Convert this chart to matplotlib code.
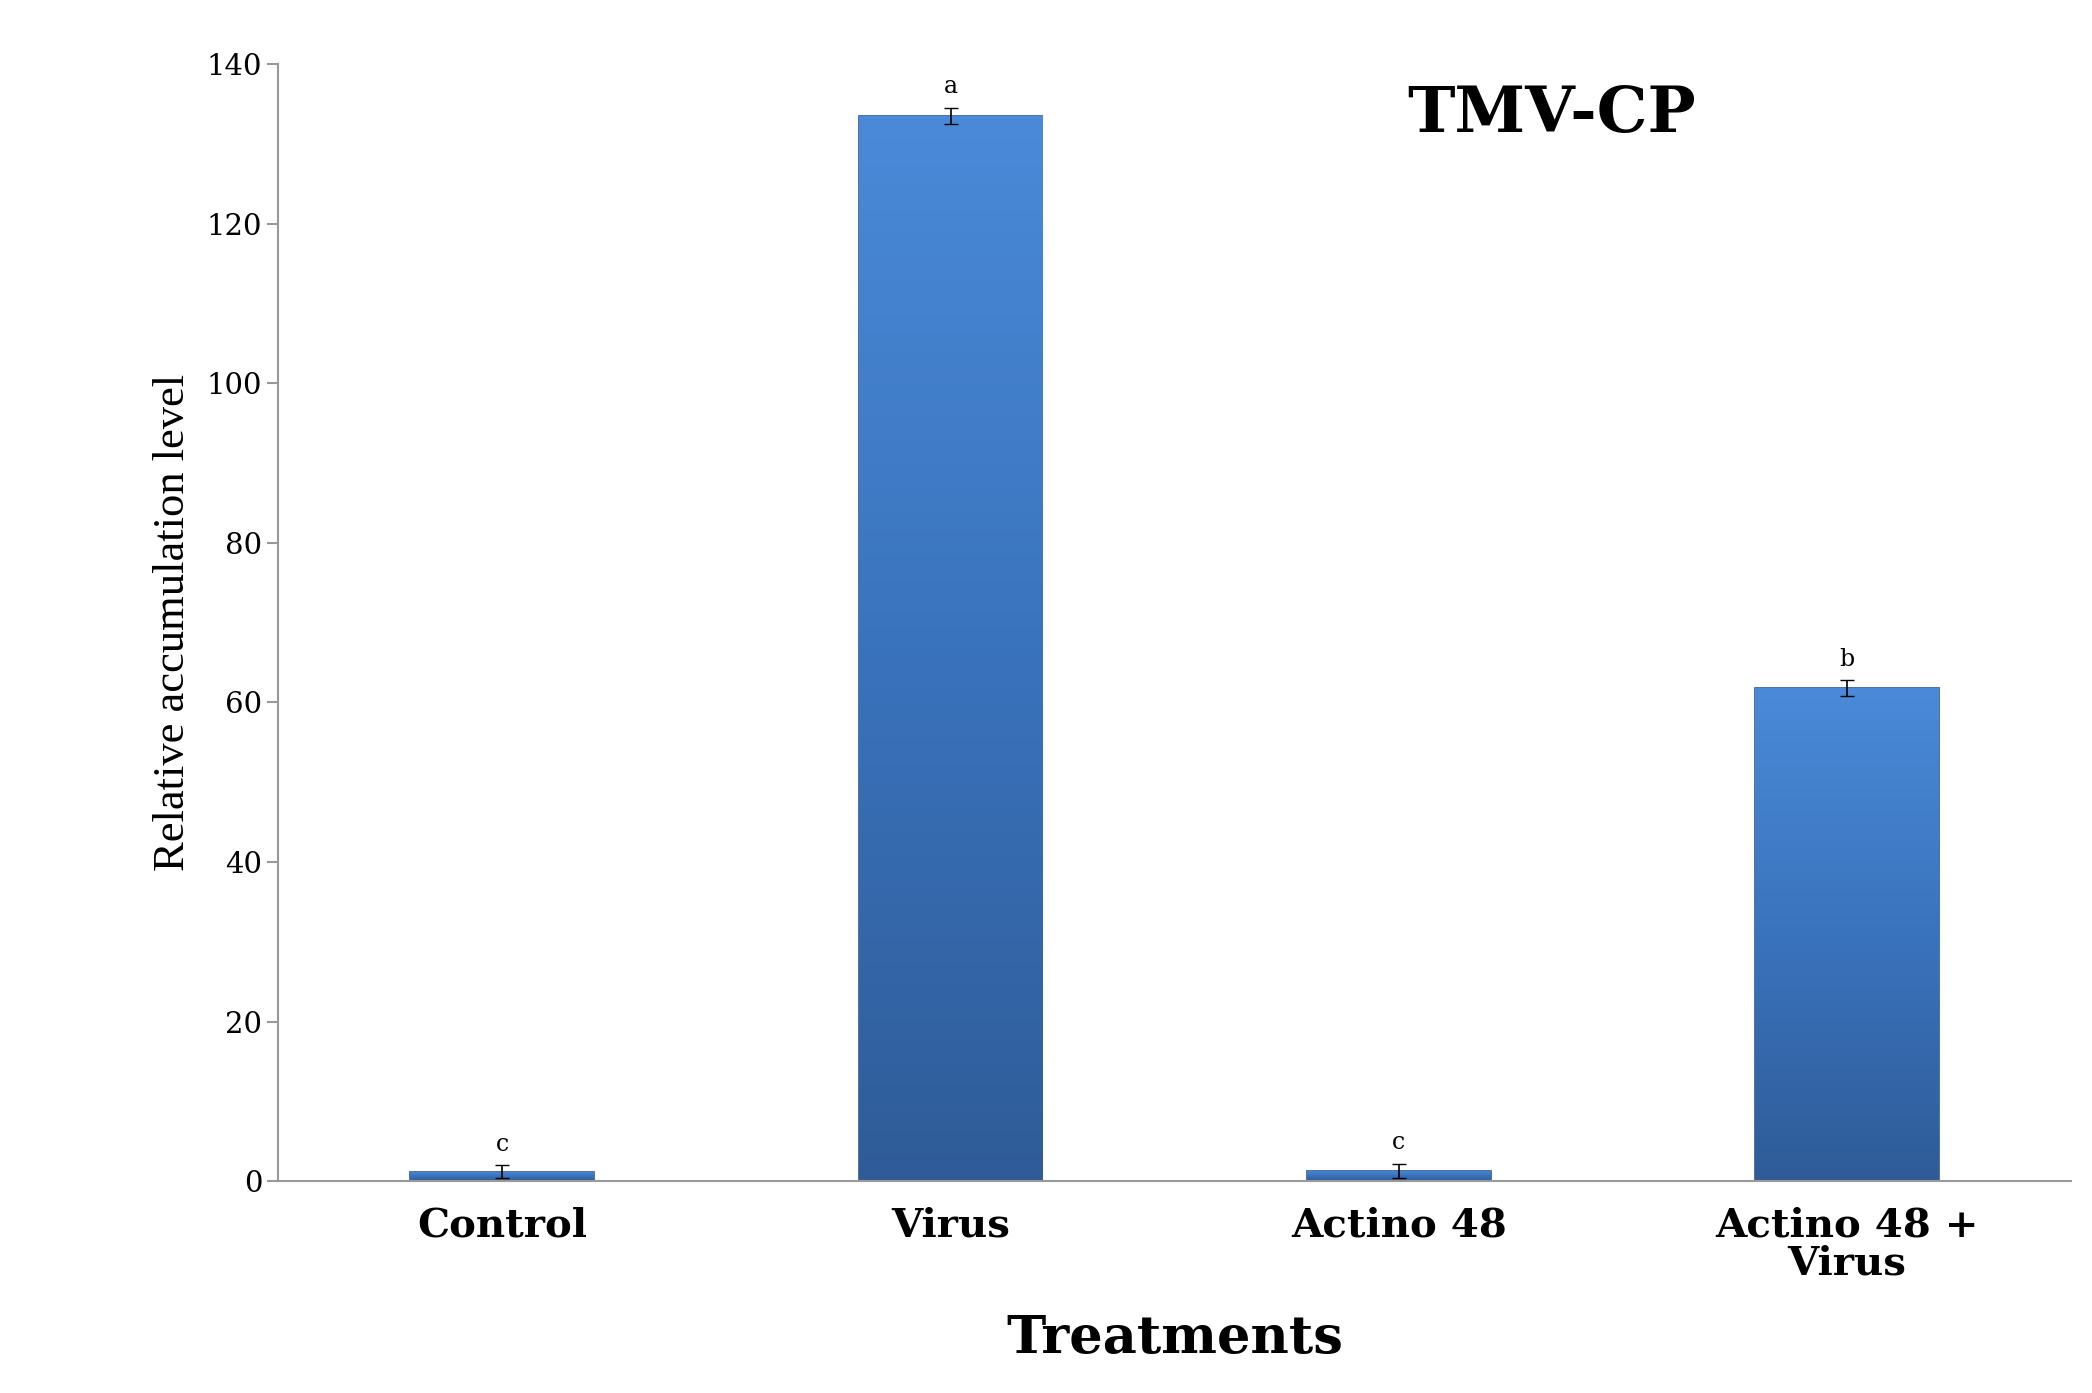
import matplotlib
matplotlib.use("Agg")
import matplotlib.pyplot as plt
import numpy as np
from matplotlib.colors import LinearSegmentedColormap

categories = ["Control", "Virus", "Actino 48", "Actino 48 +\nVirus"]
values = [1.2, 133.5, 1.3, 61.8]
errors = [0.8, 1.0, 0.9, 1.0]
letters = ["c", "a", "c", "b"]

fig = plt.figure(figsize=(20.92, 13.93), dpi=100)
ax = fig.add_axes([0.133, 0.152, 0.857, 0.802])
x = np.arange(len(categories))
w = 0.41
cmap = LinearSegmentedColormap.from_list("g", ["#2f5c98", "#3a73bd", "#4a8ad8"])
bars = ax.bar(x, values, width=w, color="#3a73bd", edgecolor="#2c5890", linewidth=1.2, zorder=2)
grad = np.linspace(0, 1, 256).reshape(-1, 1)
for b in bars:
    im = ax.imshow(grad, cmap=cmap, origin="lower", aspect="auto",
                   extent=[b.get_x(), b.get_x() + b.get_width(), 0, b.get_height()], zorder=2)
    im.set_clip_path(b)
ax.errorbar(x, values, yerr=errors, fmt="none", ecolor="black", capsize=5, elinewidth=1.2, zorder=3)
for xi, v, e, l in zip(x, values, errors, letters):
    ax.text(xi, v + e + 1.2, l, ha="center", va="bottom", fontsize=17, family="DejaVu Serif")

ax.set_xlim(-0.5, 3.5)
ax.set_ylim(0, 140)
ax.set_yticks(range(0, 141, 20))
for s in ["top", "right"]:
    ax.spines[s].set_visible(False)
for s in ["left", "bottom"]:
    ax.spines[s].set_color("#999999")
    ax.spines[s].set_linewidth(1.5)
ax.tick_params(axis="y", labelsize=21, color="#999999", length=8, width=1.5)
ax.tick_params(axis="x", length=0, pad=18)
for t in ax.get_yticklabels():
    t.set_family("DejaVu Serif")
ax.set_xticks(x)
ax.set_xticklabels(categories, fontsize=29, fontweight="bold", family="DejaVu Serif", linespacing=1.0)
ax.set_xlabel("Treatments", fontsize=38, fontweight="bold", family="DejaVu Serif", labelpad=22)
ax.set_ylabel("Relative accumulation level", fontsize=32, family="Liberation Serif", labelpad=10)
ax.text(0.71, 0.955, "TMV-CP", transform=ax.transAxes, ha="center", va="center",
        fontsize=46, fontweight="bold", family="DejaVu Serif")
fig.savefig("out.png", dpi=100, facecolor="white")
